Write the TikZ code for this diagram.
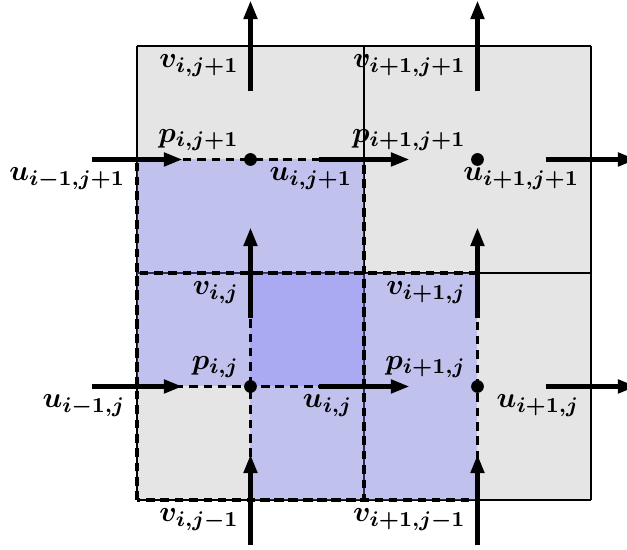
\documentclass[tikz,border=0pt]{standalone}
\usepackage{amsmath}
\usepackage{bm}
\usetikzlibrary{arrows.meta}

\begin{document}
\begin{tikzpicture}[
    x=3cm, y=3cm,
    cell/.style={line width=0.7pt},
    cv/.style={fill=blue!50, fill opacity=0.35},
    cvline/.style={line width=1.4pt, dash pattern=on 3.2pt off 2.2pt},
    flux/.style={-{Triangle[length=7pt, width=5pt]}, line width=1.6pt},
    pdot/.style={circle, fill, inner sep=0pt, minimum size=4.8pt},
    lbl/.style={anchor=north east, inner sep=0pt, font=\fontsize{11}{13}\selectfont},
    plbl/.style={anchor=south east, inner sep=0pt, font=\fontsize{11}{13}\selectfont}
]
    \useasboundingbox (-0.6035,-0.2203) rectangle (2.1586,2.2026);

    % Cells
    \fill[gray!20] (0,0) rectangle (2,2);
    \draw[cell, step=3cm] (0,0) grid (2,2);

    % Control volumes
    \fill[cv] (0,0.5) rectangle (1,1.5);
    \fill[cv] (0.5,0) rectangle (1.5,1);
    \draw[cvline] (0,0) rectangle (1,1);
    \draw[cvline] (0,0.5) rectangle (1,1.5);
    \draw[cvline] (0.5,0) rectangle (1.5,1);

    % Faces
    \coordinate (u-im1-j) at (0,0.5);
    \coordinate (u-i-j) at (1,0.5);
    \coordinate (u-ip1-j) at (2,0.5);
    \coordinate (u-im1-jp1) at (0,1.5);
    \coordinate (u-i-jp1) at (1,1.5);
    \coordinate (u-ip1-jp1) at (2,1.5);
    \coordinate (v-i-jm1) at (0.5,0);
    \coordinate (v-i-j) at (0.5,1);
    \coordinate (v-i-jp1) at (0.5,2);
    \coordinate (v-ip1-jm1) at (1.5,0);
    \coordinate (v-ip1-j) at (1.5,1);
    \coordinate (v-ip1-jp1) at (1.5,2);

    % Pressure points
    \node[pdot] (p-i-j) at (0.5,0.5) {};
    \node[pdot] (p-ip1-j) at (1.5,0.5) {};
    \node[pdot] (p-i-jp1) at (0.5,1.5) {};
    \node[pdot] (p-ip1-jp1) at (1.5,1.5) {};

    % u velocities
    \draw[flux] ([xshift=-0.6cm]u-im1-j) -- ([xshift=0.6cm]u-im1-j);
    \draw[flux] ([xshift=-0.6cm]u-i-j) -- ([xshift=0.6cm]u-i-j);
    \draw[flux] ([xshift=-0.6cm]u-ip1-j) -- ([xshift=0.6cm]u-ip1-j);
    \draw[flux] ([xshift=-0.6cm]u-im1-jp1) -- ([xshift=0.6cm]u-im1-jp1);
    \draw[flux] ([xshift=-0.6cm]u-i-jp1) -- ([xshift=0.6cm]u-i-jp1);
    \draw[flux] ([xshift=-0.6cm]u-ip1-jp1) -- ([xshift=0.6cm]u-ip1-jp1);

    % v velocities
    \draw[flux] ([yshift=-0.6cm]v-i-jm1) -- ([yshift=0.6cm]v-i-jm1);
    \draw[flux] ([yshift=-0.6cm]v-i-j) -- ([yshift=0.6cm]v-i-j);
    \draw[flux] ([yshift=-0.6cm]v-i-jp1) -- ([yshift=0.6cm]v-i-jp1);
    \draw[flux] ([yshift=-0.6cm]v-ip1-jm1) -- ([yshift=0.6cm]v-ip1-jm1);
    \draw[flux] ([yshift=-0.6cm]v-ip1-j) -- ([yshift=0.6cm]v-ip1-j);
    \draw[flux] ([yshift=-0.6cm]v-ip1-jp1) -- ([yshift=0.6cm]v-ip1-jp1);

    % Labels
    \node[lbl] at ([shift={(-4.2pt,-3pt)}]u-im1-j) {$\bm{u_{i-1,j}}$};
    \node[lbl] at ([shift={(-4.2pt,-3pt)}]u-i-j) {$\bm{u_{i,j}}$};
    \node[lbl] at ([shift={(-4.2pt,-3pt)}]u-ip1-j) {$\bm{u_{i+1,j}}$};
    \node[lbl] at ([shift={(-4.2pt,-3pt)}]u-im1-jp1) {$\bm{u_{i-1,j+1}}$};
    \node[lbl] at ([shift={(-4.2pt,-3pt)}]u-i-jp1) {$\bm{u_{i,j+1}}$};
    \node[lbl] at ([shift={(-4.2pt,-3pt)}]u-ip1-jp1) {$\bm{u_{i+1,j+1}}$};
    \node[lbl] at ([shift={(-4.2pt,-3pt)}]v-i-jm1) {$\bm{v_{i,j-1}}$};
    \node[lbl] at ([shift={(-4.2pt,-3pt)}]v-i-j) {$\bm{v_{i,j}}$};
    \node[lbl] at ([shift={(-4.2pt,-3pt)}]v-i-jp1) {$\bm{v_{i,j+1}}$};
    \node[lbl] at ([shift={(-4.2pt,-3pt)}]v-ip1-jm1) {$\bm{v_{i+1,j-1}}$};
    \node[lbl] at ([shift={(-4.2pt,-3pt)}]v-ip1-j) {$\bm{v_{i+1,j}}$};
    \node[lbl] at ([shift={(-4.2pt,-3pt)}]v-ip1-jp1) {$\bm{v_{i+1,j+1}}$};
    \node[plbl] at ([shift={(-4.2pt,3pt)}]p-i-j.center) {$\bm{p_{i,j}}$};
    \node[plbl] at ([shift={(-4.2pt,3pt)}]p-ip1-j.center) {$\bm{p_{i+1,j}}$};
    \node[plbl] at ([shift={(-4.2pt,3pt)}]p-i-jp1.center) {$\bm{p_{i,j+1}}$};
    \node[plbl] at ([shift={(-4.2pt,3pt)}]p-ip1-jp1.center) {$\bm{p_{i+1,j+1}}$};
\end{tikzpicture}
\end{document}
